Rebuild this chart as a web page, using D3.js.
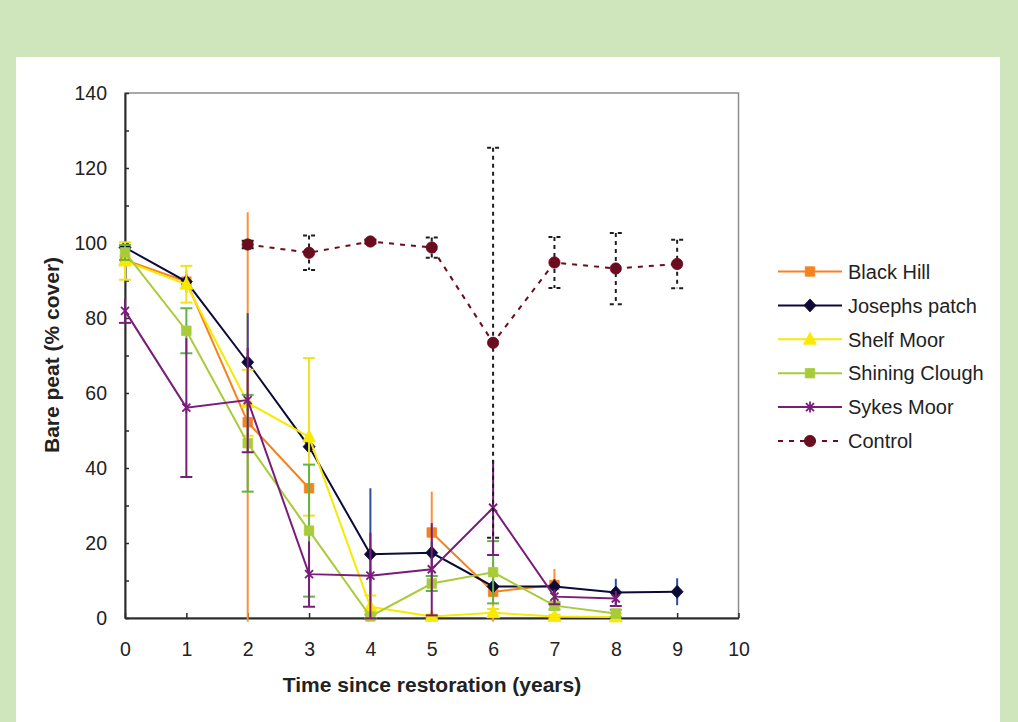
<!DOCTYPE html>
<html>
<head>
<meta charset="utf-8">
<script src="https://cdn.jsdelivr.net/npm/d3@7"></script>
<style>
  html, body { margin: 0; padding: 0; background: #cfe5bb; }
  svg { display: block; font-family: "Liberation Sans", Arial, sans-serif; }
</style>
</head>
<body>
<svg id="chart"></svg>
<script>
// years on the x axis
const years = [0, 1, 2, 3, 4, 5, 6, 7, 8, 9];
const xTicks = [0, 1, 2, 3, 4, 5, 6, 7, 8, 9, 10];
const yTicks = [0, 20, 40, 60, 80, 100, 120, 140];

const seriesNames = ["Black Hill", "Josephs patch", "Shelf Moor", "Shining Clough", "Sykes Moor", "Control"];

// mean bare peat cover, null = no survey that year
const blackHill     = [95.5, 89.7, 52.2, 34.6, null, 22.8, 7.0, 8.8];
const josephsPatch  = [98.8, 89.7, 68.2, 45.7, 17.0, 17.4, 8.4, 8.4, 6.8, 7.0];
const shelfMoor     = [95.2, 89.0, 57.4, 48.3, 3.0, 0.4, 1.4, 0.4, 0.3];
const shiningClough = [97.5, 76.6, 46.6, 23.3, 0.4, 9.2, 12.2, 3.3, 1.2];
const sykesMoor     = [81.9, 56.1, 58.1, 11.7, 11.3, 13.0, 29.4, 5.7, 5.2];
const control       = [null, null, 99.6, 97.4, 100.4, 98.8, 73.4, 94.8, 93.2, 94.4];

// +/- error for each point
const blackHillErr     = [2, 3, 56, 3, null, 10.9, 8, 4.3];
const josephsPatchErr  = [1.5, 2, 13.1, 3, 17.6, 3, 2, 2, 3.7, 3.6];
const shelfMoorErr     = [5, 4.9, 8.8, 21, 3, 0.5, 1, 0.5, 1];
const shiningCloughErr = [2, 6, 12.9, 17.6, 0.5, 2, 8.3, 1, 1];
const sykesMoorErr     = [3.2, 18.5, 13.9, 8.7, 11.4, 12.3, 12.6, 2, 2];
const controlErr       = [null, null, 1, 4.6, 0.5, 2.7, 52, 6.8, 9.5, 6.45];

const width = 1018;
const height = 722;

const svg = d3.select("#chart")
    .attr("width", width)
    .attr("height", height);

// panel
svg.append("rect").attr("width", width).attr("height", height).style("fill", "#cfe5bb");
svg.append("rect")
    .attr("x", 16).attr("y", 57)
    .attr("width", 984).attr("height", height - 57)
    .style("fill", "#ffffff");

const x = d3.scaleLinear().domain([0, 10]).range([125, 738.5]);
const y = d3.scaleLinear().domain([0, 140]).range([618, 93]);

// error bars may poke a little out of the plot area, not more
svg.append("clipPath").attr("id", "plotClip")
    .append("rect")
    .attr("x", x(0) - 10).attr("y", y(140) - 10)
    .attr("width", x(10) - x(0) + 20).attr("height", y(0) - y(140) + 14);

// plot frame (top / right grey)
svg.append("rect")
    .attr("x", x(0)).attr("y", y(140))
    .attr("width", x(10) - x(0)).attr("height", y(0) - y(140))
    .style("fill", "none")
    .style("stroke", "#8c8c8c")
    .style("stroke-width", 1.5);

// axes, ticks pointing inwards
const yAxis = d3.axisLeft(y)
    .tickValues(d3.range(0, 141, 10))
    .tickFormat(d => d % 20 === 0 ? d : "")
    .tickSizeInner(-4)
    .tickSizeOuter(0)
    .tickPadding(18);

const gy = svg.append("g")
    .attr("transform", `translate(${x(0)},0)`)
    .call(yAxis);

const xAxis = d3.axisBottom(x)
    .tickValues(xTicks)
    .tickSizeInner(-5)
    .tickSizeOuter(0)
    .tickPadding(24);

const gx = svg.append("g")
    .attr("transform", `translate(0,${y(0)})`)
    .call(xAxis);

[gx, gy].forEach(g => {
    g.select(".domain").style("stroke", "#2b2b2b").style("stroke-width", 2);
    g.selectAll(".tick line").style("stroke", "#2b2b2b").style("stroke-width", 1.5);
    g.selectAll(".tick text")
        .style("font-size", "19.5px")
        .style("fill", "#222")
        .style("font-family", "'Liberation Sans', Arial, sans-serif");
});

// axis titles
svg.append("text")
    .attr("x", 432).attr("y", 692)
    .attr("text-anchor", "middle")
    .style("font-size", "21px")
    .style("font-weight", "bold")
    .style("fill", "#222")
    .text("Time since restoration (years)");

svg.append("text")
    .attr("transform", "translate(52,355) rotate(-90)")
    .attr("dy", "0.35em")
    .attr("text-anchor", "middle")
    .style("font-size", "21px")
    .style("font-weight", "bold")
    .style("fill", "#222")
    .text("Bare peat (% cover)");

// marker shapes
const markerPath = {
    square: d3.symbol().type(d3.symbolSquare).size(90)(),
    diamond: "M0,-6.5L6,0L0,6.5L-6,0Z",
    triangle: "M0,-7L6.5,5L-6.5,5Z",
    circle: d3.symbol().type(d3.symbolCircle).size(100)(),
    star: "M-4,-4L4,4M-4,4L4,-4M0,-5.5L0,5.5"
};

// caps: which ends of the error bar get a cross line
const series = [
    { name: seriesNames[0], values: blackHill, err: blackHillErr, line: "#f5821f", fill: "#f5821f", errColor: "#f7933b", marker: "square", caps: [] },
    { name: seriesNames[1], values: josephsPatch, err: josephsPatchErr, line: "#0c0b38", fill: "#0c0b38", errColor: "#2f4e9c", marker: "diamond", caps: [] },
    { name: seriesNames[2], values: shelfMoor, err: shelfMoorErr, line: "#f7ea00", fill: "#f7ea00", errColor: "#f2e11c", marker: "triangle", caps: [1, -1] },
    { name: seriesNames[3], values: shiningClough, err: shiningCloughErr, line: "#a9cb3a", fill: "#a9cb3a", errColor: "#62b348", marker: "square", caps: [1, -1] },
    { name: seriesNames[4], values: sykesMoor, err: sykesMoorErr, line: "#7a1c7a", fill: "none", errColor: "#7a1c7a", marker: "star", caps: [-1] },
    { name: seriesNames[5], values: control, err: controlErr, line: "#6b0d1e", fill: "#6b0d1e", errColor: "#1e1e1e", marker: "circle", caps: [1, -1], dashed: true }
];

const lineGen = d3.line()
    .defined(d => d.v !== null && d.v !== undefined)
    .x(d => x(d.t))
    .y(d => y(d.v));

function drawMarker(g, s, px, py) {
    const m = g.append("path")
        .attr("d", markerPath[s.marker])
        .attr("transform", `translate(${px},${py})`);
    if (s.marker === "star") {
        m.style("fill", "none").style("stroke", s.line).style("stroke-width", 1.8);
    } else {
        m.style("fill", s.fill).style("stroke", s.fill).style("stroke-width", 0.8);
    }
}

series.forEach(s => {
    const pts = years.map((t, i) => ({ t, v: s.values[i], e: s.err[i] }));
    const g = svg.append("g");

    // error bars
    const ebg = g.append("g").attr("clip-path", "url(#plotClip)");
    pts.filter(p => p.v != null && p.e != null).forEach(p => {
        const eb = ebg.append("g")
            .style("stroke", s.errColor)
            .style("stroke-width", 2)
            .style("stroke-dasharray", s.dashed ? "4,4" : null);
        eb.append("line")
            .attr("x1", x(p.t)).attr("x2", x(p.t))
            .attr("y1", y(p.v + p.e)).attr("y2", y(Math.max(p.v - p.e, -1)));
        s.caps.forEach(sign => {
            const v = p.v + sign * p.e;
            eb.append("line")
                .attr("x1", x(p.t) - 6).attr("x2", x(p.t) + 6)
                .attr("y1", y(v)).attr("y2", y(v));
        });
    });

    // line
    g.append("path")
        .datum(pts)
        .attr("d", lineGen)
        .style("fill", "none")
        .style("stroke", s.line)
        .style("stroke-width", 2)
        .style("stroke-dasharray", s.dashed ? "5,6" : null);

    // markers
    pts.filter(p => p.v != null).forEach(p => drawMarker(g, s, x(p.t), y(p.v)));
});

// legend
const legend = svg.append("g");
series.forEach((s, i) => {
    const ly = 271.5 + i * 33.9;
    legend.append("line")
        .attr("x1", 778).attr("x2", 842)
        .attr("y1", ly).attr("y2", ly)
        .style("stroke", s.line)
        .style("stroke-width", 2)
        .style("stroke-dasharray", s.dashed ? "5,6" : null);
    drawMarker(legend, s, 810, ly);
    legend.append("text")
        .attr("x", 848).attr("y", ly)
        .attr("dy", "0.36em")
        .style("font-size", "20px")
        .style("fill", "#222")
        .text(s.name);
});
</script>
</body>
</html>
